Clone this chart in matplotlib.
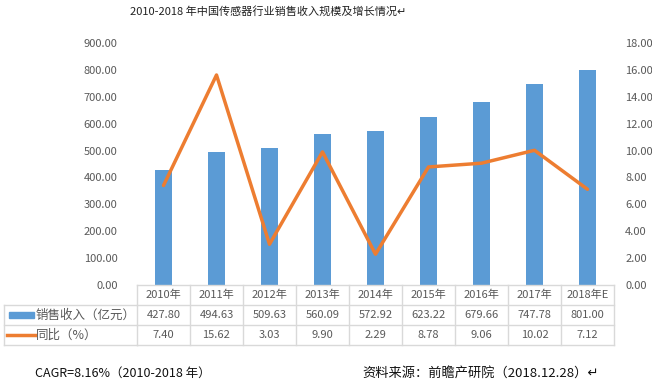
import numpy as np
import matplotlib
matplotlib.use("Agg")
import matplotlib.pyplot as plt
from matplotlib.transforms import blended_transform_factory

plt.rcParams['font.family'] = ['Noto Sans CJK SC', 'DejaVu Sans']

years = ['2010年', '2011年', '2012年', '2013年', '2014年', '2015年', '2016年', '2017年', '2018年E']
revenue = [427.80, 494.63, 509.63, 560.09, 572.92, 623.22, 679.66, 747.78, 801.00]
growth = [7.40, 15.62, 3.03, 9.90, 2.29, 8.78, 9.06, 10.02, 7.12]
rev_name = '销售收入（亿元）'
growth_name = '同比（%）'

BLUE = '#5B9BD5'
ORANGE = '#ED7D31'
GRAY = '#595959'
BORDER = '#D9D9D9'
W, H = 652, 382

fig = plt.figure(figsize=(W / 100, H / 100), dpi=100)
# plot area in pixels: x 137..614, y 43..285
ax = fig.add_axes([137 / W, 1 - 285 / H, (614 - 137) / W, (285 - 43) / H])
ax2 = ax.twinx()

x = np.arange(len(years))
ax.bar(x, revenue, width=0.32, color=BLUE, zorder=2)
ax2.plot(x, growth, color=ORANGE, lw=2.5, zorder=3, solid_capstyle='round')

ax.set_xlim(-0.5, len(years) - 0.5)
ax.set_ylim(0, 900)
ax.set_yticks(np.arange(0, 901, 100))
ax.set_yticklabels(['%.2f' % v for v in np.arange(0, 901, 100)])
ax2.set_ylim(0, 18)
ax2.set_yticks(np.arange(0, 19, 2))
ax2.set_yticklabels(['%.2f' % v for v in np.arange(0, 19, 2)])
ax.set_zorder(ax2.get_zorder() - 1)
ax2.patch.set_visible(False)

for a in (ax, ax2):
    for s in a.spines.values():
        s.set_visible(False)
    a.tick_params(axis='y', length=0, labelsize=8, labelcolor=GRAY)
    a.set_xticks([])
ax.tick_params(axis='y', pad=14)
ax2.tick_params(axis='y', pad=8)

# data table below the plot
rowh = 20 / (285 - 43)  # row height in axes fraction
tr = blended_transform_factory(ax.transData, ax.transAxes)
x0, x1 = -0.5, len(years) - 0.5
left_fig = 4 / W

line_kw = dict(color=BORDER, lw=1, clip_on=False)
ax.plot([x0, x1], [0, 0], transform=tr, **line_kw)
for k in (1, 2, 3):
    ax.plot([x0, x1], [-k * rowh, -k * rowh], transform=tr, **line_kw)
    yfig = 1 - (285 + 20 * k) / H
    fig.add_artist(plt.Line2D([left_fig, 137 / W], [yfig, yfig], color=BORDER, lw=1))
for xb in np.arange(len(years) + 1) - 0.5:
    ax.plot([xb, xb], [0, -3 * rowh], transform=tr, **line_kw)
fig.add_artist(plt.Line2D([left_fig, left_fig], [1 - 305 / H, 1 - 345 / H], color=BORDER, lw=1))

for i in range(len(years)):
    ax.text(i, -0.5 * rowh, years[i], transform=tr, ha='center', va='center', fontsize=8, color=GRAY)
    ax.text(i, -1.5 * rowh, '%.2f' % revenue[i], transform=tr, ha='center', va='center', fontsize=8, color=GRAY)
    ax.text(i, -2.5 * rowh, '%.2f' % growth[i], transform=tr, ha='center', va='center', fontsize=8, color=GRAY)

# legend keys inside the table
fig.add_artist(plt.Rectangle((9 / W, 1 - 318 / H), 25 / W, 6 / H, color=BLUE))
fig.add_artist(plt.Line2D([7 / W, 35 / W], [1 - 335 / H, 1 - 335 / H], color=ORANGE, lw=2.5))
fig.text(36 / W, 1 - 315 / H, rev_name, ha='left', va='center', fontsize=9, color=GRAY)
fig.text(36 / W, 1 - 335 / H, growth_name, ha='left', va='center', fontsize=9, color=GRAY)

fig.text(268 / W, 1 - 11 / H, '2010-2018 年中国传感器行业销售收入规模及增长情况\u21b5',
         ha='center', va='center', fontsize=8, color='#222222')
fig.text(35 / W, 1 - 373 / H, 'CAGR=8.16%（2010-2018 年）', ha='left', va='center',
         fontsize=9, color='#111111')
fig.text(362 / W, 1 - 373 / H, '资料来源：前瞻产研院（2018.12.28）\u21b5', ha='left', va='center',
         fontsize=9.5, color='#111111')

fig.savefig('out.png', dpi=100)
